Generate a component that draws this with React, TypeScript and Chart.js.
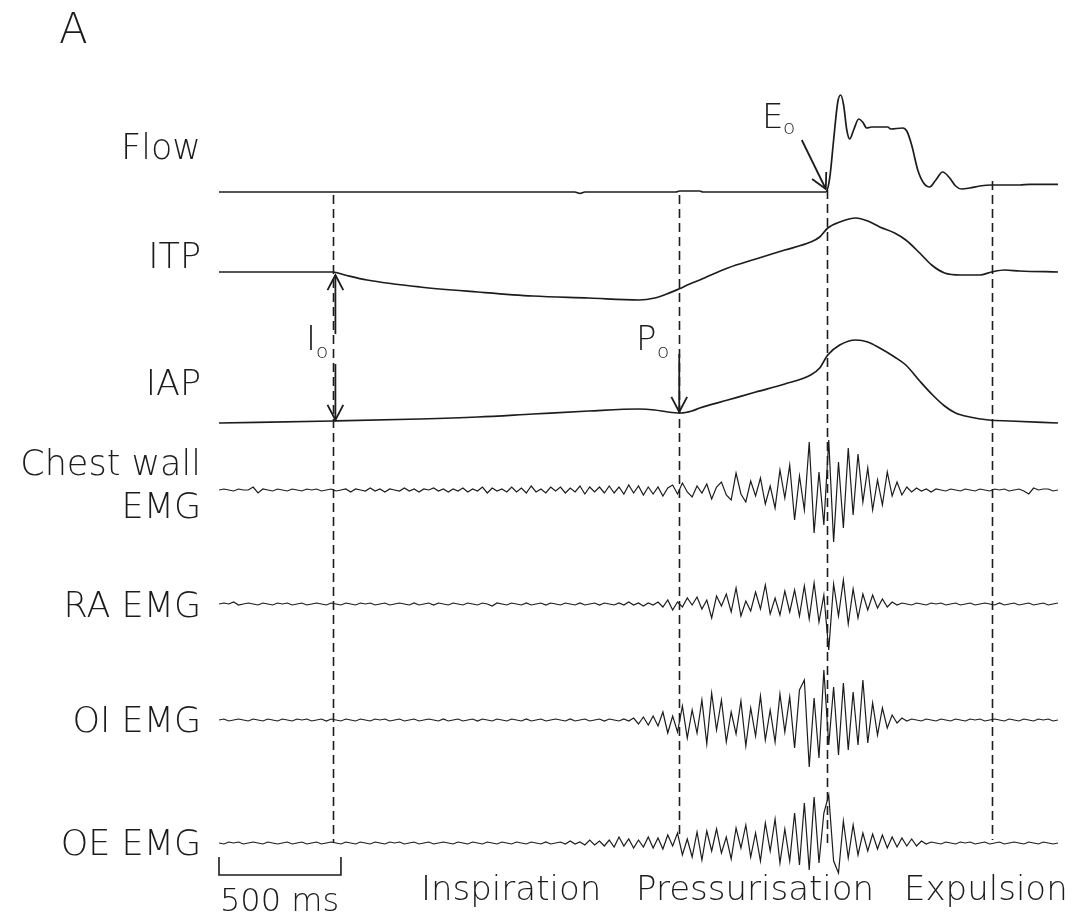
import React, { useEffect, useRef } from "react";
import { Chart, registerables } from "chart.js";
Chart.register(...registerables);

const W = 1073;
const H = 921;

// ---- time axis (ms) ----
const timeMax = 3440;
const emgStep = 20; // EMG sample interval, ms

// ---- Flow (L/s) ----
const flowTime = [0, 1459, 1480, 1500, 1873, 1889, 1971, 1984, 2488, 2504, 2520, 2537, 2549, 2561, 2574, 2586, 2602, 2623, 2639, 2656, 2676, 2742, 2754, 2803, 2820, 2840, 2865, 2889, 2914, 2939, 2967, 2996, 3020, 3045, 3078, 3119, 3168, 3283, 3324, 3440];
const flowValue = [0, 0, -0.07, 0, 0, 0.05, 0.05, 0, 0, 0.7, 2.6, 4.5, 4.85, 4.35, 3.1, 2.65, 3.1, 3.65, 3.5, 3.2, 3.25, 3.25, 3.15, 3.2, 3.05, 2.35, 1.1, 0.45, 0.25, 0.6, 1.0, 0.7, 0.3, 0.15, 0.2, 0.3, 0.35, 0.35, 0.38, 0.38];

// ---- ITP (cmH2O) ----
const itpTime = [0, 332, 467, 516, 607, 824, 1061, 1287, 1516, 1721, 1787, 1836, 1885, 1930, 1971, 2086, 2201, 2320, 2426, 2463, 2496, 2545, 2611, 2660, 2709, 2770, 2816, 2873, 2922, 2975, 3041, 3119, 3168, 3221, 3283, 3440];
const itpValue = [0, 0, 0, -6, -16, -30, -40, -48, -52, -56, -52, -44, -34, -24, -16, 8, 26, 44, 60, 70, 88, 100, 108, 102, 90, 78, 64, 38, 14, -2, -6, -6, 0, 4, 2, 0];

// ---- IAP (cmH2O) ----
const iapTime = [0, 467, 824, 1061, 1287, 1516, 1721, 1787, 1840, 1893, 1939, 1971, 2086, 2201, 2320, 2426, 2463, 2496, 2545, 2611, 2660, 2709, 2770, 2816, 2873, 2926, 2975, 3020, 3078, 3156, 3242, 3440];
const iapValue = [-2, 2, 6, 10, 16, 22, 26, 24, 20, 18, 22, 28, 44, 60, 76, 94, 108, 134, 154, 164, 160, 148, 130, 114, 82, 54, 32, 18, 10, 4, 2, -2];

// ---- EMG (a.u.), one sample every emgStep ms ----
const chestWallEmg = [
  0, 1, 0, -1, 1, 0, 0, 3, -3, 1,
  0, -1, 1, 0, -1, 1, 0, -1, 1, 0,
  1, -1, 0, 1, -1, 0, 1, -2, 1, 0,
  -1, 2, -1, 1, -2, 1, 0, -1, 2, -1,
  1, -2, 1, 0, 2, -1, 1, -2, 1, -1,
  2, -2, 1, -1, 3, -3, 2, -1, 1, -2,
  3, -2, 2, -3, 4, -2, 1, -3, 3, -1,
  3, -3, 2, -2, 4, -4, 3, -2, 3, -3,
  4, -3, 3, -4, 5, -3, 4, -5, 3, -4,
  3, -6, 2, 5, -4, 7, -2, -7, 4, -3,
  6, -9, 3, 8, -5, -10, 17, -4, -12, 9,
  -6, 12, -14, 4, -18, 20, -8, 25, -30, 14,
  -20, 48, -43, 18, -35, 50, -52, 28, -38, 42,
  -25, 36, -12, 22, -20, 10, -15, 18, -6, 8,
  -5, 3, -2, 2, -1, 1, -2, 1, 0, -1,
  1, 0, -1, 1, 0, -1, 1, 0, -1, 1,
  0, 1, -1, 0, 1, -1, -4, 2, 0, 1,
  1, -1, 0,
];
const raEmg = [
  0, 1, 0, 2, -1, 0, 1, 0, -1, 1,
  0, -1, 1, 0, 1, -1, 0, 1, -1, 0,
  1, 0, -1, 1, 0, -1, 1, 0, -1, 1,
  0, 1, -1, 0, 1, -1, 0, 1, 0, -1,
  1, -1, 0, 1, -1, 1, 0, -1, 1, 0,
  -1, 1, 0, -1, 1, 0, -2, 1, 0, -1,
  1, 0, -1, 1, -1, 0, 1, -1, 1, 0,
  -1, 1, 0, -1, 1, -1, 0, 1, -1, 1,
  0, -1, 1, -1, 2, -1, 1, -2, 1, -1,
  2, -3, 4, -6, 2, -3, 6, -1, 7, -5,
  4, -14, 8, -2, 10, -8, 16, -12, 3, -7,
  12, -5, 19, -10, 6, -11, 13, -8, 14, -12,
  18, -15, 21, -18, 9, -46, 20, -12, 24, -20,
  15, -14, 10, -6, 9, -4, 5, -3, 2, -1,
  1, 0, -1, 1, 0, -1, 1, 0, 1, -1,
  0, 1, -1, 0, 1, -1, 0, 1, 0, -1,
  1, -1, 0, 1, -1, 0, 1, -1, 0, 1,
  -1, 0, 1,
];
const oiEmg = [
  0, 1, -1, 0, 1, 0, -1, 1, 0, -1,
  1, 0, -1, 1, 0, -1, 1, 0, 1, -1,
  0, 1, -1, 1, 0, -1, 1, 0, -1, 1,
  0, -1, 1, 0, 1, -1, 0, 1, -1, 0,
  1, -1, 0, 1, 0, -1, 1, -1, 0, 1,
  -1, 0, 1, -1, 1, 0, -1, 1, 0, -1,
  1, 0, -1, 1, -1, 0, 1, -1, 0, 1,
  0, -1, 1, -1, 0, 1, -1, 0, 1, -1,
  1, 0, -1, 1, -1, 2, -4, 3, -5, 4,
  -6, 8, -13, 4, -12, 14, -18, 10, -13, 20,
  -24, 27, -10, 20, -22, 8, -14, 19, -26, 12,
  -16, 24, -20, 10, -22, 26, -12, 23, -28, 30,
  40, -47, 22, -38, 50, -25, 33, -35, 37, -30,
  28, -25, 40, -23, 17, -15, 12, -8, 5, -3,
  2, -1, 1, 0, -1, 1, 0, -1, 1, 0,
  -1, 1, 0, -1, 1, 0, 1, -1, 0, 1,
  0, -1, 1, 0, -1, 1, 0, -1, 1, 0,
  1, -1, 0,
];
const oeEmg = [
  0, -1, 1, 0, 1, -1, 0, 1, 0, -1,
  1, 0, -1, 0, 1, -1, 0, 1, -1, 0,
  1, -1, 0, 1, 0, -1, 1, 0, -1, 1,
  0, -1, 1, 0, -1, 1, 0, 1, -1, 0,
  1, -1, 0, 1, -1, 0, 1, 0, -1, 1,
  0, -1, 1, 0, -1, 1, 0, -1, 1, 0,
  -1, 1, 0, -1, 1, 0, -1, 1, -1, 0,
  1, -1, 2, -1, 1, -2, 3, -2, 2, -3,
  3, -4, 6, -3, 4, -5, 3, -4, 6, -5,
  5, -6, 8, -3, 10, -12, 4, -14, 11, -17,
  12, -8, 14, -10, 6, -16, 15, -5, 18, -14,
  10, -18, 20, -8, 24, -20, 14, -18, 30, -22,
  40, -27, 46, -20, 30, 48, -18, -30, 22, -15,
  18, -12, 10, -8, 9, -6, 8, -5, 6, -4,
  5, -3, 4, -3, 2, -1, 1, 0, -1, 1,
  0, -1, 1, 0, 1, -1, 0, 1, -1, 0,
  1, -1, 0, 1, 0, -1, 1, 0, -1, 1,
  0, -1, 0,
];

// ---- labels / events ----
const channelLabels = ["Flow", "ITP", "IAP", "Chest wall", "EMG", "RA EMG", "OI EMG", "OE EMG"];
const eventTimes = [467, 1885, 2492, 3168]; // Io, Po, Eo, end of expulsion
const phaseLabels = ["Inspiration", "Pressurisation", "Expulsion"];
const scaleBarMs = 500;
const panelLetter = "A";

const FONT = '"DejaVu Sans", "Liberation Sans", sans-serif';
const WEIGHT = "200";
const INK = "#1c1c1c";

function arrow(ctx: CanvasRenderingContext2D, x1: number, y1: number, x2: number, y2: number) {
  ctx.beginPath();
  ctx.moveTo(x1, y1);
  ctx.lineTo(x2, y2);
  ctx.stroke();
  const a = Math.atan2(y2 - y1, x2 - x1);
  const L = 17;
  const sp = Math.PI / 6.5;
  ctx.beginPath();
  ctx.moveTo(x2 - L * Math.cos(a - sp), y2 - L * Math.sin(a - sp));
  ctx.lineTo(x2, y2);
  ctx.lineTo(x2 - L * Math.cos(a + sp), y2 - L * Math.sin(a + sp));
  ctx.stroke();
}

function sub(ctx: CanvasRenderingContext2D, main: string, x: number, y: number, ox: number, oy: number) {
  ctx.textAlign = "left";
  ctx.font = `${WEIGHT} 34px ${FONT}`;
  ctx.fillText(main, x, y);
  ctx.font = `${WEIGHT} 20px ${FONT}`;
  ctx.fillText("o", x + ox, y + oy);
}

const annot = {
  id: "annot",
  beforeDatasetsDraw(chart: any) {
    const ctx: CanvasRenderingContext2D = chart.ctx;
    const xs = chart.scales.x;
    const tops = [195, 195, 190, 181];
    const bottoms = [843, 838, 843, 840];
    ctx.save();
    ctx.strokeStyle = INK;
    ctx.lineWidth = 1.6;
    ctx.setLineDash([9, 5]);
    eventTimes.forEach((t, i) => {
      const x = Math.round(xs.getPixelForValue(t)) + 0.5;
      ctx.beginPath();
      ctx.moveTo(x, tops[i]);
      ctx.lineTo(x, bottoms[i]);
      ctx.stroke();
    });
    ctx.restore();
  },
  afterDatasetsDraw(chart: any) {
    const ctx: CanvasRenderingContext2D = chart.ctx;
    const xs = chart.scales.x;
    ctx.save();
    ctx.fillStyle = INK;
    ctx.strokeStyle = INK;
    ctx.lineWidth = 1.8;
    ctx.setLineDash([]);
    ctx.textBaseline = "alphabetic";

    // panel letter
    ctx.font = `${WEIGHT} 42px ${FONT}`;
    ctx.textAlign = "left";
    ctx.fillText(panelLetter, 59, 43);

    // channel labels
    ctx.font = `${WEIGHT} 35px ${FONT}`;
    ctx.textAlign = "right";
    const baselines = [159, 268, 395, 475, 518, 617, 732, 855];
    channelLabels.forEach((s, i) => ctx.fillText(s, 201, baselines[i]));

    // arrows
    const xIo = xs.getPixelForValue(eventTimes[0]) + 2.5;
    arrow(ctx, xIo, 334, xIo, 275);
    arrow(ctx, xIo, 364, xIo, 420);
    const xPo = xs.getPixelForValue(eventTimes[1]) + 0.5;
    arrow(ctx, xPo, 354, xPo, 412);
    const xEo = xs.getPixelForValue(eventTimes[2]);
    const yEo = chart.scales.yFlow.getPixelForValue(0) - 3;
    arrow(ctx, xEo - 25, yEo - 49, xEo - 1, yEo);

    // event labels
    sub(ctx, "I", 306, 350, 10, 8);
    sub(ctx, "P", 636, 350, 21, 8);
    sub(ctx, "E", 762, 128, 21, 6);

    // scale bar
    const x0 = xs.getPixelForValue(0);
    const x1 = xs.getPixelForValue(scaleBarMs);
    ctx.lineWidth = 1.6;
    ctx.beginPath();
    ctx.moveTo(x0, 857);
    ctx.lineTo(x0, 875);
    ctx.lineTo(x1, 875);
    ctx.lineTo(x1, 857);
    ctx.stroke();
    ctx.font = `${WEIGHT} 32px ${FONT}`;
    ctx.textAlign = "left";
    ctx.fillText(`${scaleBarMs} ms`, 220, 911);

    // phase labels
    ctx.font = `${WEIGHT} 34px ${FONT}`;
    const px = [421, 636, 904];
    phaseLabels.forEach((s, i) => ctx.fillText(s, px[i], 900));
    ctx.restore();
  },
};

export default function App() {
  const ref = useRef<HTMLCanvasElement>(null);
  useEffect(() => {
    const canvas = ref.current!;
    const emgTime = chestWallEmg.map((_, i) => i * emgStep);
    const pts = (ts: number[], vs: number[]) => ts.map((t, i) => ({ x: t, y: vs[i] }));
    // baseline pixel b, gain g (px per unit)
    const axis = (b: number, g: number) => ({ display: false, min: (b - H) / g, max: b / g });
    const smooth = { borderColor: INK, borderWidth: 1.7, pointRadius: 0, cubicInterpolationMode: "monotone" as const, fill: false };
    const emg = { borderColor: INK, borderWidth: 1.2, pointRadius: 0, tension: 0, fill: false };
    const chart = new Chart(canvas, {
      type: "line",
      data: {
        datasets: [
          { ...smooth, label: "Flow", data: pts(flowTime, flowValue), yAxisID: "yFlow" },
          { ...smooth, label: "ITP", data: pts(itpTime, itpValue), yAxisID: "yItp" },
          { ...smooth, label: "IAP", data: pts(iapTime, iapValue), yAxisID: "yIap" },
          { ...emg, label: "Chest wall EMG", data: pts(emgTime, chestWallEmg), yAxisID: "yCw" },
          { ...emg, label: "RA EMG", data: pts(emgTime, raEmg), yAxisID: "yRa" },
          { ...emg, label: "OI EMG", data: pts(emgTime, oiEmg), yAxisID: "yOi" },
          { ...emg, label: "OE EMG", data: pts(emgTime, oeEmg), yAxisID: "yOe" },
        ],
      },
      options: {
        responsive: false,
        animation: false,
        devicePixelRatio: 1,
        events: [],
        layout: { padding: { left: 219, right: 15, top: 0, bottom: 0 } },
        plugins: { legend: { display: false }, tooltip: { enabled: false } },
        scales: {
          x: { type: "linear", min: 0, max: timeMax, display: false },
          yFlow: axis(192, 20),
          yItp: axis(272, 0.5),
          yIap: axis(422, 0.5),
          yCw: axis(490, 1),
          yRa: axis(604, 1),
          yOi: axis(720, 1),
          yOe: axis(843, 1),
        },
      } as any,
      plugins: [annot],
    });
    return () => chart.destroy();
  }, []);
  return (
    <div style={{ position: "fixed", left: 0, top: 0, width: W, height: H, background: "#fff" }}>
      <canvas ref={ref} width={W} height={H} style={{ width: W, height: H, display: "block" }} />
    </div>
  );
}
